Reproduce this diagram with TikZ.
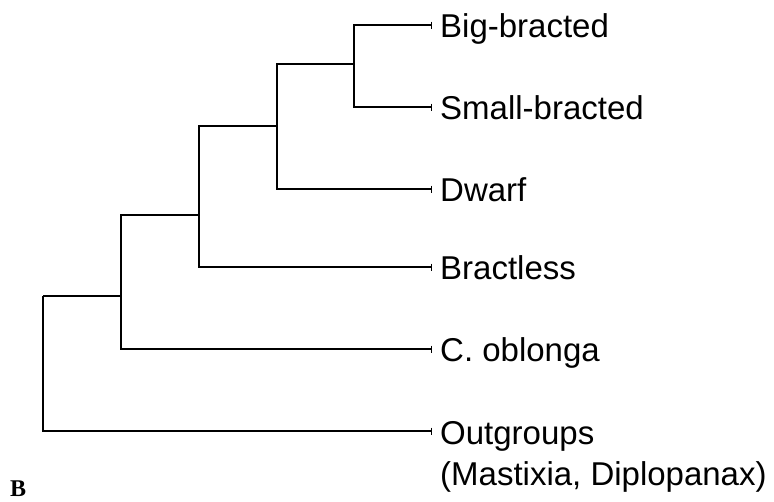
\documentclass[tikz,border=0pt]{standalone}
\usepackage{fontspec}
\setmainfont{Liberation Sans}
\newfontfamily\serifb{Liberation Serif}
\usetikzlibrary{arrows.meta}
\begin{document}
\begin{tikzpicture}[x=1pt,y=-1pt,
  branch/.style={line width=1.3pt, black},
  leafline/.style={branch, -{Bar[width=7pt,line width=1.3pt]}, shorten >=0pt},
  taxon/.style={anchor=base west, inner sep=0pt, font=\fontsize{33}{41}\selectfont, align=left}]
\useasboundingbox (0,0) rectangle (774,501);
% tips
\coordinate (tBig) at (432,25);
\coordinate (tSmall) at (432,107);
\coordinate (tDwarf) at (432,189);
\coordinate (tBractless) at (432,267);
\coordinate (tObl) at (432,349);
\coordinate (tOut) at (432,431);
% internal nodes
\coordinate (nA) at (354,64);
\coordinate (nB) at (277,126);
\coordinate (nC) at (199,215);
\coordinate (nD) at (121,296);
\coordinate (nE) at (43,296);
% labels
\node[taxon] (lBig) at (440,37) {Big-bracted};
\node[taxon] (lSmall) at (440,119) {Small-bracted};
\node[taxon] (lDwarf) at (440,201) {Dwarf};
\node[taxon] (lBractless) at (440,279) {Bractless};
\node[taxon] (lObl) at (440,361) {C. oblonga};
\node[taxon] (lOut) at (440,485) {Outgroups\\(Mastixia, Diplopanax)};
\node[anchor=base west, inner sep=0pt, font=\serifb\bfseries\fontsize{24}{28}\selectfont] (panel) at (10,496) {B};
% branches
\draw[leafline] (nA) |- (tBig);
\draw[leafline] (nA) |- (tSmall);
\draw[branch] (nB) |- (nA);
\draw[leafline] (nB) |- (tDwarf);
\draw[branch] (nC) |- (nB);
\draw[leafline] (nC) |- (tBractless);
\draw[branch] (nD) |- (nC);
\draw[leafline] (nD) |- (tObl);
\draw[branch] (nE) -- (nD);
\draw[leafline] (nE) |- (tOut);
\end{tikzpicture}
\end{document}
